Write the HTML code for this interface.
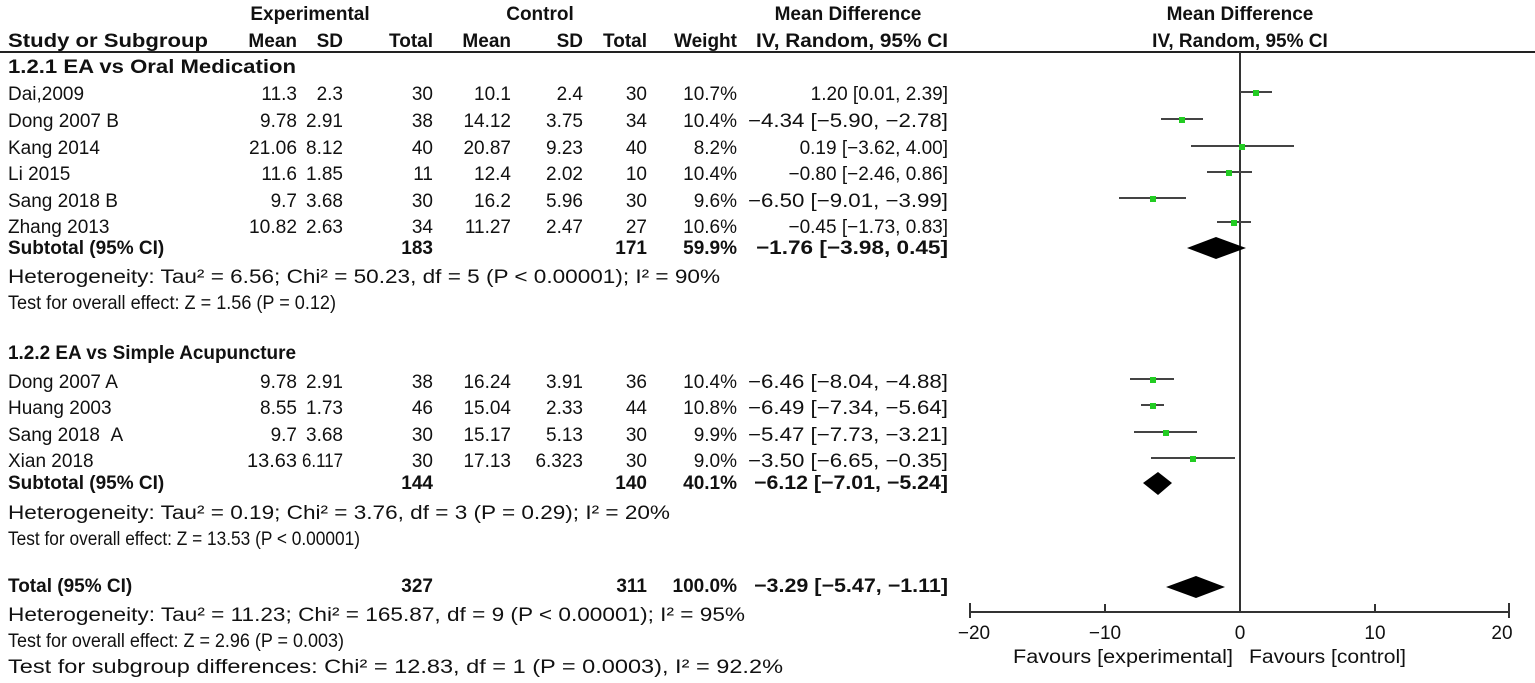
<!DOCTYPE html>
<html><head><meta charset="utf-8"><style>
html,body{margin:0;padding:0;background:#fff;}
svg{display:block;font-family:"Liberation Sans",sans-serif;}
text{font-size:19px;fill:#111;}
.b{font-weight:bold;}
.r{text-anchor:end;}
.c{text-anchor:middle;}
</style></head><body>
<svg width="1535" height="683" viewBox="0 0 1535 683">
<text class="b c" x="310" y="20">Experimental</text>
<text class="b c" x="540" y="20">Control</text>
<text class="b c" x="848" y="20">Mean Difference</text>
<text class="b c" x="1240" y="20">Mean Difference</text>
<text class="b" x="8" y="47" textLength="200" lengthAdjust="spacingAndGlyphs">Study or Subgroup</text>
<text class="b r" x="297" y="47">Mean</text>
<text class="b r" x="343" y="47">SD</text>
<text class="b r" x="433" y="47">Total</text>
<text class="b r" x="511" y="47">Mean</text>
<text class="b r" x="583" y="47">SD</text>
<text class="b r" x="647" y="47">Total</text>
<text class="b r" x="737" y="47">Weight</text>
<text class="b r" x="948" y="47" textLength="192" lengthAdjust="spacingAndGlyphs">IV, Random, 95% CI</text>
<text class="b c" x="1240" y="47">IV, Random, 95% CI</text>
<line x1="0" y1="52" x2="1535" y2="52" stroke="#222" stroke-width="2"/>

<text class="b" x="8" y="73" textLength="288" lengthAdjust="spacingAndGlyphs">1.2.1 EA vs Oral Medication</text>
<text x="8" y="100">Dai,2009</text><text class="r" x="297" y="100">11.3</text><text class="r" x="343" y="100">2.3</text><text class="r" x="433" y="100">30</text><text class="r" x="511" y="100">10.1</text><text class="r" x="583" y="100">2.4</text><text class="r" x="647" y="100">30</text><text class="r" x="737" y="100">10.7%</text><text class="r" x="948" y="100">1.20 [0.01, 2.39]</text>
<text x="8" y="127">Dong 2007 B</text><text class="r" x="297" y="127">9.78</text><text class="r" x="343" y="127">2.91</text><text class="r" x="433" y="127">38</text><text class="r" x="511" y="127">14.12</text><text class="r" x="583" y="127">3.75</text><text class="r" x="647" y="127">34</text><text class="r" x="737" y="127">10.4%</text><text class="r" x="948" y="127" textLength="200" lengthAdjust="spacingAndGlyphs">−4.34 [−5.90, −2.78]</text>
<text x="8" y="154">Kang 2014</text><text class="r" x="297" y="154" textLength="48" lengthAdjust="spacingAndGlyphs">21.06</text><text class="r" x="343" y="154">8.12</text><text class="r" x="433" y="154">40</text><text class="r" x="511" y="154">20.87</text><text class="r" x="583" y="154">9.23</text><text class="r" x="647" y="154">40</text><text class="r" x="737" y="154">8.2%</text><text class="r" x="948" y="154">0.19 [−3.62, 4.00]</text>
<text x="8" y="180">Li 2015</text><text class="r" x="297" y="180">11.6</text><text class="r" x="343" y="180">1.85</text><text class="r" x="433" y="180">11</text><text class="r" x="511" y="180">12.4</text><text class="r" x="583" y="180">2.02</text><text class="r" x="647" y="180">10</text><text class="r" x="737" y="180">10.4%</text><text class="r" x="948" y="180">−0.80 [−2.46, 0.86]</text>
<text x="8" y="207">Sang 2018 B</text><text class="r" x="297" y="207">9.7</text><text class="r" x="343" y="207">3.68</text><text class="r" x="433" y="207">30</text><text class="r" x="511" y="207">16.2</text><text class="r" x="583" y="207">5.96</text><text class="r" x="647" y="207">30</text><text class="r" x="737" y="207">9.6%</text><text class="r" x="948" y="207" textLength="200" lengthAdjust="spacingAndGlyphs">−6.50 [−9.01, −3.99]</text>
<text x="8" y="233">Zhang 2013</text><text class="r" x="297" y="233" textLength="48" lengthAdjust="spacingAndGlyphs">10.82</text><text class="r" x="343" y="233">2.63</text><text class="r" x="433" y="233">34</text><text class="r" x="511" y="233">11.27</text><text class="r" x="583" y="233">2.47</text><text class="r" x="647" y="233">27</text><text class="r" x="737" y="233">10.6%</text><text class="r" x="948" y="233">−0.45 [−1.73, 0.83]</text>
<text class="b" x="8" y="254">Subtotal (95% CI)</text><text class="b r" x="433" y="254">183</text><text class="b r" x="647" y="254">171</text><text class="b r" x="737" y="254">59.9%</text><text class="b r" x="948" y="254" textLength="192" lengthAdjust="spacingAndGlyphs">−1.76 [−3.98, 0.45]</text>
<text x="8" y="283" textLength="712" lengthAdjust="spacingAndGlyphs">Heterogeneity: Tau² = 6.56; Chi² = 50.23, df = 5 (P &lt; 0.00001); I² = 90%</text>
<text x="8" y="309" textLength="328" lengthAdjust="spacingAndGlyphs">Test for overall effect: Z = 1.56 (P = 0.12)</text>

<text class="b" x="8" y="359" textLength="288" lengthAdjust="spacingAndGlyphs">1.2.2 EA vs Simple Acupuncture</text>
<text x="8" y="388">Dong 2007 A</text><text class="r" x="297" y="388">9.78</text><text class="r" x="343" y="388">2.91</text><text class="r" x="433" y="388">38</text><text class="r" x="511" y="388">16.24</text><text class="r" x="583" y="388">3.91</text><text class="r" x="647" y="388">36</text><text class="r" x="737" y="388">10.4%</text><text class="r" x="948" y="388" textLength="200" lengthAdjust="spacingAndGlyphs">−6.46 [−8.04, −4.88]</text>
<text x="8" y="414">Huang 2003</text><text class="r" x="297" y="414">8.55</text><text class="r" x="343" y="414">1.73</text><text class="r" x="433" y="414">46</text><text class="r" x="511" y="414">15.04</text><text class="r" x="583" y="414">2.33</text><text class="r" x="647" y="414">44</text><text class="r" x="737" y="414">10.8%</text><text class="r" x="948" y="414" textLength="200" lengthAdjust="spacingAndGlyphs">−6.49 [−7.34, −5.64]</text>
<text x="8" y="441">Sang 2018 &#160;A</text><text class="r" x="297" y="441">9.7</text><text class="r" x="343" y="441">3.68</text><text class="r" x="433" y="441">30</text><text class="r" x="511" y="441">15.17</text><text class="r" x="583" y="441">5.13</text><text class="r" x="647" y="441">30</text><text class="r" x="737" y="441">9.9%</text><text class="r" x="948" y="441" textLength="200" lengthAdjust="spacingAndGlyphs">−5.47 [−7.73, −3.21]</text>
<text x="8" y="467">Xian 2018</text><text class="r" x="297" y="467" textLength="50" lengthAdjust="spacingAndGlyphs">13.63</text><text class="r" x="343" y="467" textLength="41" lengthAdjust="spacingAndGlyphs">6.117</text><text class="r" x="433" y="467">30</text><text class="r" x="511" y="467">17.13</text><text class="r" x="583" y="467">6.323</text><text class="r" x="647" y="467">30</text><text class="r" x="737" y="467">9.0%</text><text class="r" x="948" y="467" textLength="200" lengthAdjust="spacingAndGlyphs">−3.50 [−6.65, −0.35]</text>
<text class="b" x="8" y="489">Subtotal (95% CI)</text><text class="b r" x="433" y="489">144</text><text class="b r" x="647" y="489">140</text><text class="b r" x="737" y="489">40.1%</text><text class="b r" x="948" y="489" textLength="194" lengthAdjust="spacingAndGlyphs">−6.12 [−7.01, −5.24]</text>
<text x="8" y="519" textLength="662" lengthAdjust="spacingAndGlyphs">Heterogeneity: Tau² = 0.19; Chi² = 3.76, df = 3 (P = 0.29); I² = 20%</text>
<text x="8" y="545" textLength="352" lengthAdjust="spacingAndGlyphs">Test for overall effect: Z = 13.53 (P &lt; 0.00001)</text>

<text class="b" x="8" y="592">Total (95% CI)</text><text class="b r" x="433" y="592">327</text><text class="b r" x="647" y="592">311</text><text class="b r" x="737" y="592">100.0%</text><text class="b r" x="948" y="592" textLength="194" lengthAdjust="spacingAndGlyphs">−3.29 [−5.47, −1.11]</text>
<text x="8" y="621" textLength="737" lengthAdjust="spacingAndGlyphs">Heterogeneity: Tau² = 11.23; Chi² = 165.87, df = 9 (P &lt; 0.00001); I² = 95%</text>
<text x="8" y="647" textLength="336" lengthAdjust="spacingAndGlyphs">Test for overall effect: Z = 2.96 (P = 0.003)</text>
<text x="8" y="673" textLength="775" lengthAdjust="spacingAndGlyphs">Test for subgroup differences: Chi² = 12.83, df = 1 (P = 0.0003), I² = 92.2%</text>

<line x1="1240" y1="52" x2="1240" y2="612" stroke="#333" stroke-width="2"/>
<g stroke="#444" stroke-width="2">
<line x1="1240" y1="92" x2="1272" y2="92"/>
<line x1="1161" y1="119" x2="1203" y2="119"/>
<line x1="1191" y1="146" x2="1294" y2="146"/>
<line x1="1207" y1="172" x2="1252" y2="172"/>
<line x1="1119" y1="198" x2="1186" y2="198"/>
<line x1="1217" y1="222" x2="1251" y2="222"/>
<line x1="1130" y1="379" x2="1174" y2="379"/>
<line x1="1141" y1="405" x2="1164" y2="405"/>
<line x1="1134" y1="432" x2="1197" y2="432"/>
<line x1="1151" y1="458" x2="1235" y2="458"/>
</g>
<g fill="#22cc22">
<rect x="1253" y="90" width="6" height="6"/>
<rect x="1179" y="117" width="6" height="6"/>
<rect x="1239" y="144" width="6" height="6"/>
<rect x="1226" y="170" width="6" height="6"/>
<rect x="1150" y="196" width="6" height="6"/>
<rect x="1231" y="220" width="6" height="6"/>
<rect x="1150" y="377" width="6" height="6"/>
<rect x="1150" y="403" width="6" height="6"/>
<rect x="1163" y="430" width="6" height="6"/>
<rect x="1190" y="456" width="6" height="6"/>
</g>
<polygon points="1187,248 1216,237 1246,248 1216,259" fill="#000"/>
<polygon points="1143,483 1158,472 1172,483 1158,495" fill="#000"/>
<polygon points="1166,587 1196,576 1225,587 1196,598" fill="#000"/>

<g stroke="#333" stroke-width="2">
<line x1="970" y1="612" x2="1509" y2="612"/>
<line x1="970" y1="603" x2="970" y2="618"/>
<line x1="1105" y1="604" x2="1105" y2="612"/>
<line x1="1375" y1="604" x2="1375" y2="612"/>
<line x1="1509" y1="603" x2="1509" y2="618"/>
</g>
<text class="c" x="974" y="639">−20</text>
<text class="c" x="1105" y="639">−10</text>
<text class="c" x="1240" y="639">0</text>
<text class="c" x="1375" y="639">10</text>
<text class="c" x="1502" y="639">20</text>
<text class="r" x="1233" y="663" textLength="220" lengthAdjust="spacingAndGlyphs">Favours [experimental]</text>
<text x="1249" y="663" textLength="157" lengthAdjust="spacingAndGlyphs">Favours [control]</text>
</svg>
</body></html>
